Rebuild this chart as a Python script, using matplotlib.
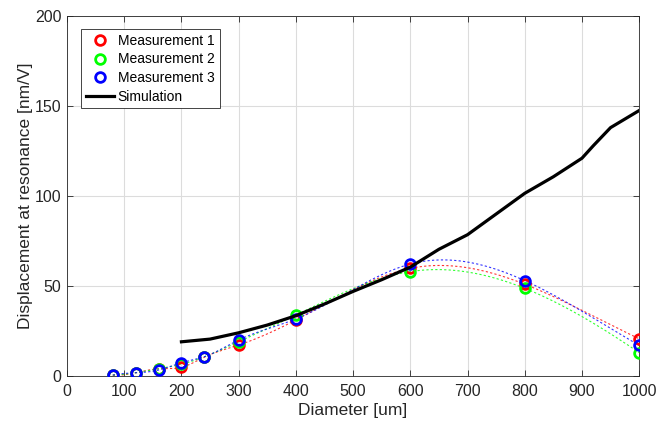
import numpy as np
import matplotlib
matplotlib.use("Agg")
import matplotlib.pyplot as plt

plt.rcParams['font.family'] = ['Liberation Sans', 'DejaVu Sans']

# Measurement data
diam = [80, 120, 160, 200, 240, 300, 400, 600, 800, 1000]
meas1 = [0.5, 1.8, 4.0, 4.8, 10.5, 17.2, 31.1, 59.8, 51.0, 20.7]
meas2 = [0.5, 1.8, 4.0, 6.5, 10.7, 19.0, 33.9, 58.0, 48.7, 13.0]
meas3 = [0.5, 1.8, 3.3, 7.4, 10.7, 20.0, 31.7, 62.2, 53.0, 17.0]

# Simulation data
sim_x = [200, 250, 300, 350, 400, 450, 500, 550, 600, 650, 700, 750, 800,
         850, 900, 920, 950, 1000]
sim_y = [19.0, 20.5, 24.0, 28.3, 33.5, 40.0, 47.0, 53.5, 60.5, 70.4, 78.5,
         90.0, 101.5, 110.7, 121.0, 128.0, 138.0, 147.5]

labels = ["Measurement 1", "Measurement 2", "Measurement 3", "Simulation"]
colors = ["#ff0000", "#00ff00", "#0000ff"]


def notaknot_spline(x, y, xq):
    x = np.asarray(x, float)
    y = np.asarray(y, float)
    n = len(x)
    h = np.diff(x)
    A = np.zeros((n, n))
    b = np.zeros(n)
    A[0, 0] = h[1]
    A[0, 1] = -(h[0] + h[1])
    A[0, 2] = h[0]
    for i in range(1, n - 1):
        A[i, i - 1] = h[i - 1]
        A[i, i] = 2 * (h[i - 1] + h[i])
        A[i, i + 1] = h[i]
        b[i] = 6 * ((y[i + 1] - y[i]) / h[i] - (y[i] - y[i - 1]) / h[i - 1])
    A[n - 1, n - 3] = h[n - 2]
    A[n - 1, n - 2] = -(h[n - 3] + h[n - 2])
    A[n - 1, n - 1] = h[n - 3]
    M = np.linalg.solve(A, b)
    xq = np.asarray(xq, float)
    idx = np.clip(np.searchsorted(x, xq) - 1, 0, n - 2)
    x0, x1 = x[idx], x[idx + 1]
    hh = x1 - x0
    return (M[idx] * (x1 - xq) ** 3 / (6 * hh) + M[idx + 1] * (xq - x0) ** 3 / (6 * hh)
            + (y[idx] / hh - M[idx] * hh / 6) * (x1 - xq)
            + (y[idx + 1] / hh - M[idx + 1] * hh / 6) * (xq - x0))


fig = plt.figure(figsize=(6.7, 4.25), dpi=100)
ax = fig.add_axes([0.1, 0.1153, 0.854, 0.847])

xq = np.linspace(diam[0], diam[-1], 400)
for m, c in zip([meas1, meas2, meas3], colors):
    ax.plot(xq, notaknot_spline(diam, m, xq), linestyle=(0, (2, 2)), color=c,
            linewidth=0.8, alpha=0.8, zorder=2)

handles = []
for m, c, lab in zip([meas1, meas2, meas3], colors, labels[:3]):
    h, = ax.plot(diam, m, linestyle='none', marker='o', markersize=7,
                 markerfacecolor='none', markeredgecolor=c, markeredgewidth=2,
                 label=lab, zorder=3)
    handles.append(h)

hs, = ax.plot(sim_x, sim_y, color='black', linewidth=2.3, label=labels[3], zorder=4)
handles.append(hs)

ax.set_xlim(0, 1000)
ax.set_ylim(0, 200)
ax.set_xticks(np.arange(0, 1001, 100))
ax.set_yticks(np.arange(0, 201, 50))
ax.grid(True, color='#dcdcdc', linewidth=0.8)
ax.set_axisbelow(True)
for s in ax.spines.values():
    s.set_color('#262626')
    s.set_linewidth(0.6)
ax.tick_params(direction='in', length=4, width=0.6, colors='#262626',
               labelsize=11.5, top=True, right=True, labeltop=False, labelright=False)
ax.tick_params(axis='x', pad=6)
ax.tick_params(axis='y', pad=4)
ax.set_xlabel("Diameter [um]", fontsize=12.5, color='#262626', labelpad=3)
ax.set_ylabel("Displacement at resonance [nm/V]", fontsize=12.5, color='#262626', labelpad=1)

leg = ax.legend(handles=handles, loc='upper left', bbox_to_anchor=(0.0245, 0.964),
                fontsize=10, frameon=True, fancybox=False, framealpha=1,
                edgecolor='#262626', handlelength=2.0, handletextpad=0.3,
                borderpad=0.35, labelspacing=0.33, borderaxespad=0)
leg.get_frame().set_linewidth(0.6)

fig.savefig("out.png", dpi=100)
